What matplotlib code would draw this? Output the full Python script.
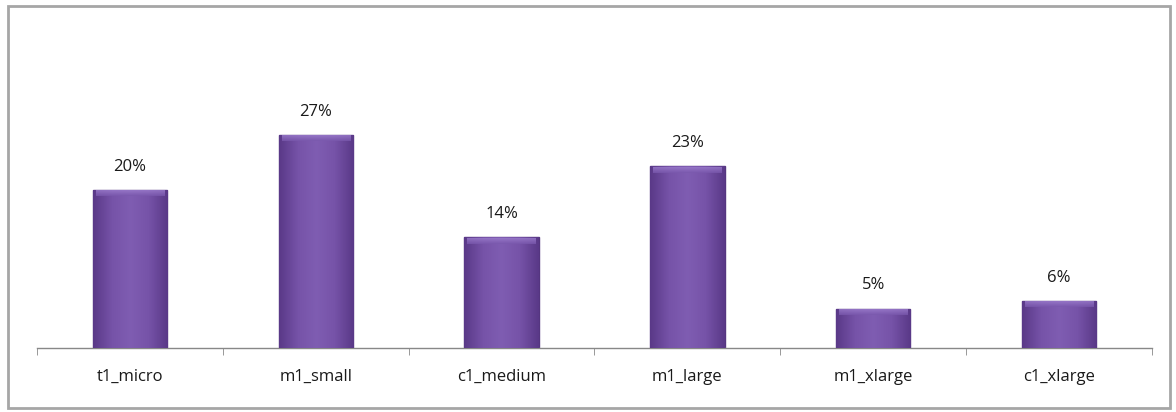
import numpy as np
import matplotlib
matplotlib.use("Agg")
import matplotlib.pyplot as plt
from matplotlib.patches import Rectangle
from matplotlib.colors import LinearSegmentedColormap

# instance types and share of usage
instances = ["t1_micro", "m1_small", "c1_medium", "m1_large", "m1_xlarge", "c1_xlarge"]
share = [0.20, 0.27, 0.14, 0.23, 0.05, 0.06]
pct_labels = ["20%", "27%", "14%", "23%", "5%", "6%"]

plt.rcParams['font.family'] = ['Open Sans', 'DejaVu Sans']

fig = plt.figure(figsize=(11.76, 4.12), dpi=100)
# outer chart border
fig.patches.append(Rectangle((8/1176, 4/412), 1162/1176, 402/412, transform=fig.transFigure,
                             fill=False, edgecolor="#a6a6a6", lw=2))

ax = fig.add_axes([37/1176, 64/412, 1115/1176, 316/412])
x = np.arange(len(instances))
bars = ax.bar(x, share, width=0.4, color="#7450a4", edgecolor="#553680", lw=1, zorder=2)

# horizontal shading inside each bar
cmap = LinearSegmentedColormap.from_list("purp", ["#5a3988", "#7653a8", "#7f5db2", "#7653a8", "#5a3988"])
grad = np.linspace(0, 1, 64).reshape(1, -1)
vgrad = np.linspace(0, 1, 16).reshape(-1, 1)
top_cmap = LinearSegmentedColormap.from_list("top", ["#9b7ccc", "#7a58ad"])
for b in bars:
    x0, w, h = b.get_x(), b.get_width(), b.get_height()
    im = ax.imshow(grad, cmap=cmap, extent=(x0, x0 + w, 0, h), aspect="auto", zorder=3)
    im.set_clip_path(b)
    # soft lighter bevel on top
    bev = ax.imshow(vgrad, cmap=top_cmap, extent=(x0 + w*0.04, x0 + w*0.96, h - 0.008, h - 0.001),
                    aspect="auto", zorder=4, alpha=0.8)
    bev.set_clip_path(b)

for xi, v, lab in zip(x, share, pct_labels):
    ax.text(xi, v + 0.019, lab, ha="center", va="bottom", fontsize=12, color="#1a1a1a")

ax.set_xlim(-0.5, len(instances) - 0.5)
ax.set_ylim(0, 0.40)
ax.set_xticks(x)
ax.set_xticklabels(instances, fontsize=12, color="#1a1a1a")
ax.tick_params(axis="x", which="major", length=0, pad=15)
ax.set_xticks(np.arange(-0.5, len(instances)), minor=True)
ax.tick_params(axis="x", which="minor", length=5, color="#888888", direction="out")
ax.set_yticks([])
for s in ["top", "left", "right"]:
    ax.spines[s].set_visible(False)
ax.spines["bottom"].set_color("#888888")
ax.spines["bottom"].set_linewidth(1)

fig.savefig("out.png", dpi=100)
